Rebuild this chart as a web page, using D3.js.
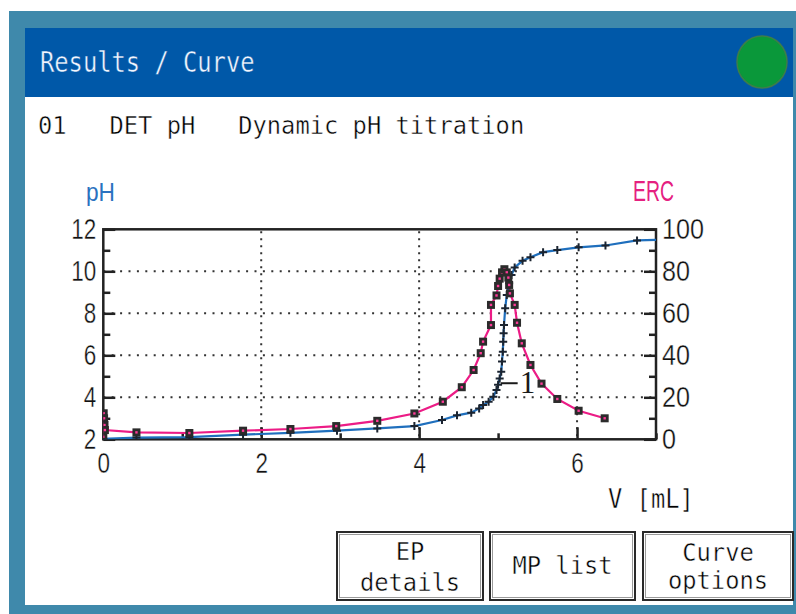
<!DOCTYPE html>
<html>
<head>
<meta charset="utf-8">
<script src="https://cdn.jsdelivr.net/npm/d3@7"></script>
<style>
html, body { margin: 0; padding: 0; background: #fff; }
svg { display: block; }
</style>
</head>
<body>
<div id="screen"></div>
<script>
// pH curve, measured points (V in mL)
var phVolume = [0.00, 0.42, 1.09, 1.77, 2.37, 2.96, 3.47, 3.94, 4.29, 4.48, 4.66, 4.76, 4.81, 4.88, 4.94, 4.98,
                5.00, 5.02, 5.04, 5.05, 5.06, 5.065, 5.07, 5.075, 5.09, 5.11, 5.14, 5.17, 5.21, 5.31, 5.41, 5.57,
                5.75, 6.02, 6.36, 6.76, 7.15];
var phValues = [2.02, 2.08, 2.10, 2.22, 2.31, 2.41, 2.52, 2.63, 2.92, 3.14, 3.27, 3.47, 3.63, 3.79, 4.03, 4.35,
                4.60, 4.90, 5.22, 5.70, 6.17, 6.65, 7.05, 7.44, 8.24, 8.87, 9.43, 9.82, 10.18, 10.50, 10.67, 10.91,
                11.01, 11.14, 11.23, 11.47, 11.52];

// ERC curve
var ercVolume = [0.00, 0.005, 0.01, 0.015, 0.02, 0.42, 1.09, 1.77, 2.37, 2.95, 3.47, 3.94, 4.30, 4.54, 4.69, 4.78,
                 4.81, 4.91, 4.91, 4.98, 5.00, 5.02, 5.05, 5.08, 5.11, 5.13, 5.14, 5.15, 5.21, 5.24, 5.30, 5.41,
                 5.55, 5.75, 6.02, 6.35];
var ercValues = [1.2, 12.4, 10.0, 6.8, 4.4, 3.3, 3.0, 4.1, 4.9, 6.3, 8.8, 12.3, 17.9, 24.8, 33.0, 41.0,
                 46.5, 54.4, 64.0, 68.5, 73.0, 76.5, 79.5, 81.0, 79.5, 77.0, 73.5, 69.5, 64.0, 55.5, 45.7, 35.4,
                 26.5, 19.2, 13.6, 10.0];

// equivalence point
var epVolume = [5.02];
var epPh = [4.67];
var epLabels = ["1"];

// axes
var xTickValues = [0, 2, 4, 6];
var xMinorTicks = [1, 3, 5, 7];
var phTickValues = [2, 4, 6, 8, 10, 12];
var phMinorTicks = [3, 5, 7, 9, 11];
var ercTickValues = [0, 20, 40, 60, 80, 100];
var ercMinorTicks = [10, 30, 50, 70, 90];
var gridVolume = [2, 4, 6];
var gridPh = [4, 6, 8, 10];

var titleText = "Results / Curve";
var methodText = "01   DET pH   Dynamic pH titration";
var xAxisTitle = "V [mL]";
var buttonLabels = [["EP", "details"], ["MP list"], ["Curve", "options"]];

var monoFont = "'DejaVu Sans Mono', monospace";
var sansFont = "'Liberation Sans', Arial, sans-serif";
var charW = 14.3;

var svg = d3.select("#screen").append("svg")
    .attr("width", 796)
    .attr("height", 614);

// device frame
svg.append("rect").attr("x", 0).attr("y", 0).attr("width", 796).attr("height", 614).attr("fill", "#fff");
svg.append("rect").attr("x", 9).attr("y", 11).attr("width", 787).attr("height", 603).attr("fill", "#3f89ab");
svg.append("rect").attr("x", 25).attr("y", 28).attr("width", 768).attr("height", 577).attr("fill", "#fff");
svg.append("rect").attr("x", 25).attr("y", 28).attr("width", 768).attr("height", 69).attr("fill", "#0058a8");
svg.append("ellipse").attr("cx", 762).attr("cy", 62).attr("rx", 25).attr("ry", 26)
    .attr("fill", "#0a983a").attr("stroke", "#3d7d4a").attr("stroke-width", 1.5);

// condensed device-like text, strokes thinned a little with a background-coloured outline
function monoText(parent, str, x, y, size, anchor, color, bg) {
  return parent.append("text")
      .attr("x", x)
      .attr("y", y)
      .attr("font-family", monoFont)
      .attr("font-size", size)
      .attr("fill", color || "#000")
      .attr("stroke", bg || "#fff")
      .attr("stroke-width", 0.45)
      .attr("text-anchor", anchor || "start")
      .attr("textLength", str.length * charW)
      .attr("lengthAdjust", "spacingAndGlyphs")
      .style("white-space", "pre")
      .text(str);
}

monoText(svg, titleText, 40, 72, 29, "start", "#f2f6ff", "#0058a8");
monoText(svg, methodText, 38, 134, 25);

// chart area
var margin = {top: 229.3, left: 103.3},
    width = 656 - 103.3,
    height = 439.3 - 229.3;

var x = d3.scaleLinear().domain([0, 7]).range([0, width]);
var yPh = d3.scaleLinear().domain([2, 12]).range([height, 0]);
var yErc = d3.scaleLinear().domain([0, 100]).range([height, 0]);

var main = svg.append("g")
    .attr("transform", "translate(" + margin.left + "," + margin.top + ")");

main.append("clipPath").attr("id", "plotClip")
  .append("rect").attr("x", 0).attr("y", 0).attr("width", width).attr("height", height);

// dotted grid
main.selectAll("line.hgrid")
    .data(gridPh)
    .enter().append("line")
    .attr("class", "hgrid")
    .attr("x1", 0).attr("x2", width)
    .attr("y1", function (d) { return yPh(d); })
    .attr("y2", function (d) { return yPh(d); })
    .attr("stroke", "#333").attr("stroke-width", 2)
    .attr("stroke-dasharray", "2,6.4");

main.selectAll("line.vgrid")
    .data(gridVolume)
    .enter().append("line")
    .attr("class", "vgrid")
    .attr("x1", function (d) { return x(d); })
    .attr("x2", function (d) { return x(d); })
    .attr("y1", 2).attr("y2", height)
    .attr("stroke", "#333").attr("stroke-width", 2)
    .attr("stroke-dasharray", "2,5");

function styleAxis(g, perDigit) {
  g.select(".domain").remove();
  g.selectAll(".tick line").attr("stroke", "#222").attr("stroke-width", 2.5);
  g.selectAll("text")
      .attr("font-family", sansFont)
      .attr("font-size", 29)
      .attr("fill", "#111")
      .attr("stroke", "#fff")
      .attr("stroke-width", 0.35)
      .attr("textLength", function (d) { return String(d).length * perDigit; })
      .attr("lengthAdjust", "spacingAndGlyphs");
}

var intFormat = d3.format("d");

// left pH axis
main.append("g")
    .call(d3.axisLeft(yPh).tickValues(phTickValues).tickFormat(intFormat).tickSize(-12).tickPadding(7))
    .call(styleAxis, 12.5);
main.append("g")
    .call(d3.axisLeft(yPh).tickValues(phMinorTicks).tickSize(-7).tickFormat(""))
    .call(styleAxis, 0);

// right ERC axis
main.append("g")
    .attr("transform", "translate(" + width + ",0)")
    .call(d3.axisRight(yErc).tickValues(ercTickValues).tickFormat(intFormat).tickSize(-12).tickPadding(6))
    .call(styleAxis, 14);
main.append("g")
    .attr("transform", "translate(" + width + ",0)")
    .call(d3.axisRight(yErc).tickValues(ercMinorTicks).tickSize(-7).tickFormat(""))
    .call(styleAxis, 0);

// bottom volume axis
main.append("g")
    .attr("transform", "translate(0," + height + ")")
    .call(d3.axisBottom(x).tickValues(xTickValues).tickFormat(intFormat).tickSize(-12).tickPadding(13))
    .call(styleAxis, 12.5);
main.append("g")
    .attr("transform", "translate(0," + height + ")")
    .call(d3.axisBottom(x).tickValues(xMinorTicks).tickSize(-6).tickFormat(""))
    .call(styleAxis, 0);

// frame
main.append("rect")
    .attr("x", 0).attr("y", 0).attr("width", width).attr("height", height)
    .attr("fill", "none").attr("stroke", "#222").attr("stroke-width", 2.5);

// axis titles
svg.append("text").attr("x", 86).attr("y", 201)
    .attr("font-family", sansFont).attr("font-size", 26).attr("fill", "#2a72c0")
    .attr("textLength", 29).attr("lengthAdjust", "spacingAndGlyphs")
    .text("pH");
svg.append("text").attr("x", 633).attr("y", 201)
    .attr("font-family", sansFont).attr("font-size", 30).attr("fill", "#e5207f")
    .attr("textLength", 41).attr("lengthAdjust", "spacingAndGlyphs")
    .text("ERC");
monoText(svg, xAxisTitle, 608, 508, 27);

// curves
var phData = phVolume.map(function (v, i) { return [v, phValues[i]]; });
var ercData = ercVolume.map(function (v, i) { return [v, ercValues[i]]; });

var plot = main.append("g").attr("clip-path", "url(#plotClip)");

var ercLine = d3.line()
    .x(function (d) { return x(d[0]); })
    .y(function (d) { return yErc(d[1]); });
var phLine = d3.line()
    .x(function (d) { return x(d[0]); })
    .y(function (d) { return yPh(d[1]); });

plot.append("path")
    .datum(ercData)
    .attr("d", ercLine)
    .attr("fill", "none").attr("stroke", "#ec1c86").attr("stroke-width", 2.2);

plot.append("path")
    .datum(phData)
    .attr("d", phLine)
    .attr("fill", "none").attr("stroke", "#1f6fbd").attr("stroke-width", 2.2);

// pH markers (+)
plot.selectAll("path.plus")
    .data(phData)
    .enter().append("path")
    .attr("class", "plus")
    .attr("transform", function (d) { return "translate(" + x(d[0]) + "," + yPh(d[1]) + ")"; })
    .attr("d", "M-4,0H4M0,-4V4")
    .attr("stroke", "#1b2430").attr("stroke-width", 2);

// ERC markers (squares)
var sq = plot.selectAll("g.sq")
    .data(ercData)
    .enter().append("g")
    .attr("class", "sq")
    .attr("transform", function (d) { return "translate(" + x(d[0]) + "," + yErc(d[1]) + ")"; });
sq.append("rect").attr("x", -4).attr("y", -4).attr("width", 8).attr("height", 8).attr("fill", "#2b2b2b");
sq.append("rect").attr("x", -1.2).attr("y", -1.2).attr("width", 2.4).attr("height", 2.4).attr("fill", "#ff3a98");

// EP label
epVolume.forEach(function (v, i) {
  var px = x(v), py = yPh(epPh[i]);
  main.append("line")
      .attr("x1", px + 1).attr("x2", px + 18)
      .attr("y1", py).attr("y2", py)
      .attr("stroke", "#1a1a1a").attr("stroke-width", 2);
  main.append("text")
      .attr("x", px + 20).attr("y", py + 10)
      .attr("font-family", "'Liberation Serif', serif")
      .attr("font-size", 31)
      .attr("fill", "#1a1a1a")
      .text(epLabels[i]);
});

// soft keys
var buttons = [
  {x: 337, w: 146, lines: [560, 591]},
  {x: 490, w: 145, lines: [574]},
  {x: 643, w: 150, lines: [561, 589]}
];
buttons.forEach(function (b, i) {
  svg.append("rect").attr("x", b.x).attr("y", 532).attr("width", b.w).attr("height", 68)
      .attr("fill", "#fff").attr("stroke", "#2a2a2a").attr("stroke-width", 2);
  svg.append("rect").attr("x", b.x + 2.5).attr("y", 534.5).attr("width", b.w - 5).attr("height", 63)
      .attr("fill", "none").attr("stroke", "#9a9a9a").attr("stroke-width", 1);
  buttonLabels[i].forEach(function (s, j) {
    monoText(svg, s, b.x + b.w / 2, b.lines[j], 25, "middle");
  });
});
</script>
</body>
</html>
